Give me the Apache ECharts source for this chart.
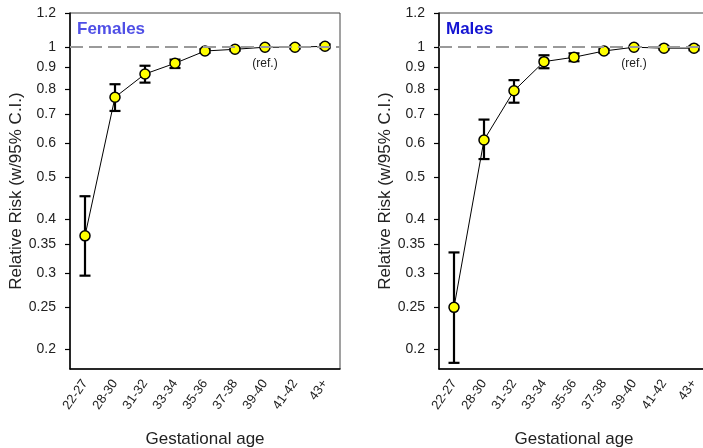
<!DOCTYPE html>
<html>
<head>
<meta charset="utf-8">
<script src="https://cdn.jsdelivr.net/npm/echarts@6/dist/echarts.min.js"></script>
<style>
html,body{margin:0;padding:0;background:#fff;}
#chart{width:703px;height:448px;}
</style>
</head>
<body>
<div id="chart"></div>
<script>
// ---- data ----
const categories = ['22-27','28-30','31-32','33-34','35-36','37-38','39-40','41-42','43+'];
const yTicks = [0.2,0.25,0.3,0.35,0.4,0.5,0.6,0.7,0.8,0.9,1,1.2];
const refIndex = 6;

const femalesRR    = [0.366, 0.766, 0.867, 0.918, 0.980, 0.989, 1.0, 1.0, 1.005];
const femalesLower = [0.296, 0.712, 0.828, 0.895, 0.970, 0.981, null, 0.992, 0.995];
const femalesUpper = [0.452, 0.821, 0.906, 0.936, 0.990, 0.997, null, 1.008, 1.016];

const malesRR    = [0.250, 0.610, 0.793, 0.926, 0.948, 0.980, 1.0, 0.995, 0.995];
const malesLower = [0.186, 0.551, 0.744, 0.894, 0.928, 0.970, null, 0.987, 0.984];
const malesUpper = [0.335, 0.680, 0.839, 0.958, 0.968, 0.990, null, 1.003, 1.006];

const panelTitles = ['Females', 'Males'];
const titleColors = ['#4f4fe6', '#1414d2'];

// ---- helpers ----
const FONT = "'Liberation Sans', Arial, sans-serif";

function errData(lower, upper){
  return categories.map((c,i)=>[i, lower[i], upper[i]]);
}
function renderErr(params, api){
  const lo = api.value(1), hi = api.value(2);
  if (lo == null || hi == null || isNaN(lo) || isNaN(hi)) return null;
  const x = api.value(0);
  const a = api.coord([x, lo]), b = api.coord([x, hi]);
  const w = 5.5;
  const st = {stroke:'#000', lineWidth:2.2};
  return {type:'group', children:[
    {type:'line', shape:{x1:a[0], y1:a[1], x2:b[0], y2:b[1]}, style:st},
    {type:'line', shape:{x1:a[0]-w, y1:a[1], x2:a[0]+w, y2:a[1]}, style:st},
    {type:'line', shape:{x1:b[0]-w, y1:b[1], x2:b[0]+w, y2:b[1]}, style:st}
  ]};
}
function pointData(vals){
  return vals.map((v,i)=> i===refIndex ? {value:v, label:{show:true, position:'bottom', distance:5, formatter:'(ref.)', color:'#222', fontSize:12, fontFamily:FONT}} : v);
}
function xAxisCfg(gi){
  return {
    gridIndex: gi, type:'category', data: categories, boundaryGap:true,
    axisLine:{lineStyle:{color:'#000', width:1.5}},
    axisTick:{alignWithLabel:true, length:5, lineStyle:{color:'#000', width:1.2}},
    axisLabel:{rotate:55, fontSize:13, margin:12, color:'#222', fontFamily:FONT, interval:0},
    name:'Gestational age', nameLocation:'middle', nameGap:62,
    nameTextStyle:{fontSize:17, color:'#222', fontFamily:FONT},
    splitLine:{show:false}
  };
}
function yAxisCfg(gi){
  return {
    gridIndex: gi, type:'log', logBase:10, min:0.18, max:1.2,
    axisLine:{show:true, lineStyle:{color:'#000', width:1.5}},
    axisTick:{show:true, length:5, customValues:yTicks, lineStyle:{color:'#000', width:1.2}},
    axisLabel:{customValues:yTicks, fontSize:14, margin:14, color:'#222', fontFamily:FONT,
               formatter: v => String(+(+v).toFixed(2))},
    splitLine:{show:false}, minorTick:{show:false},
    name:'Relative Risk (w/95% C.I.)', nameLocation:'middle', nameGap:45,
    nameTextStyle:{fontSize:17, color:'#222', fontFamily:FONT}
  };
}
function seriesFor(gi, rr, lower, upper){
  return [
    {
      type:'custom', xAxisIndex:gi, yAxisIndex:gi, renderItem:renderErr,
      data: errData(lower, upper), z:2, silent:true,
      encode:{x:0, y:[1,2]},
      markLine:{
        silent:true, symbol:'none', label:{show:false},
        lineStyle:{type:[13,6], color:'#9a9a9a', width:2},
        data:[{yAxis:1}]
      }
    },
    {
      type:'line', xAxisIndex:gi, yAxisIndex:gi, data: pointData(rr),
      symbol:'circle', symbolSize:10, z:3,
      lineStyle:{color:'#000', width:1},
      itemStyle:{color:'#ffff00', borderColor:'#000', borderWidth:1.5},
      label:{show:false}
    }
  ];
}

const chart = echarts.init(document.getElementById('chart'), null, {renderer:'canvas'});
chart.setOption({
  backgroundColor:'#fff',
  animation:false,
  title: panelTitles.map((t,i)=>({
    text:t, left: i===0 ? 77 : 446, top: 21, padding:0,
    textStyle:{fontSize:17, fontWeight:'bold', color:titleColors[i], fontFamily:FONT}
  })),
  grid:[
    {left:70, top:13, width:270, height:356, outerBoundsMode:'none', containLabel:false, show:true, borderColor:'#444', borderWidth:1, backgroundColor:'transparent'},
    {left:439, top:13, width:270, height:356, outerBoundsMode:'none', containLabel:false, show:true, borderColor:'#444', borderWidth:1, backgroundColor:'transparent'}
  ],
  xAxis:[xAxisCfg(0), xAxisCfg(1)],
  yAxis:[yAxisCfg(0), yAxisCfg(1)],
  series:[
    ...seriesFor(0, femalesRR, femalesLower, femalesUpper),
    ...seriesFor(1, malesRR, malesLower, malesUpper)
  ]
});
</script>
</body>
</html>
